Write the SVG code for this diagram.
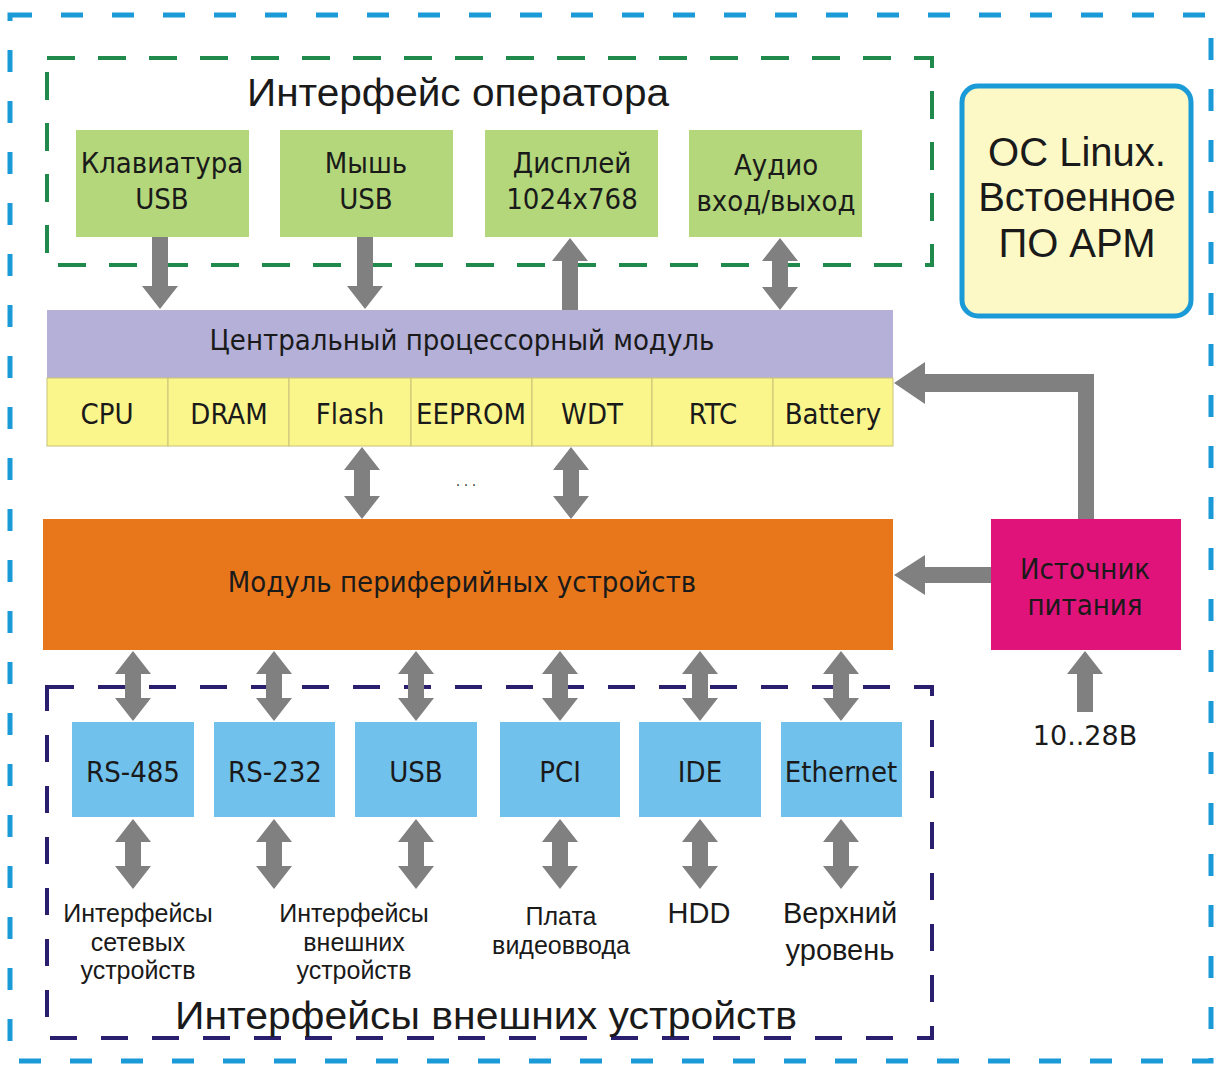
<svg xmlns="http://www.w3.org/2000/svg" width="1216" height="1066" viewBox="0 0 1216 1066">
<style>
.t{font-family:"DejaVu Sans Condensed","DejaVu Sans",sans-serif;fill:#1a1a1a;text-anchor:middle}
.a{font-family:"Liberation Sans",Arial,sans-serif;fill:#1a1a1a;text-anchor:middle}
.arr{fill:#808080}
.g{fill:#b3d77a}
.y{fill:#fbf68c;stroke:#c8c27a;stroke-width:1}
.b{fill:#70c1ec}
</style>
<rect width="1216" height="1066" fill="#ffffff"/>
<g id="frame-outer">
<rect x="10" y="15" width="1201" height="1046" fill="none" stroke="#1a9ad6" stroke-width="5" stroke-dasharray="22 29"/>
</g>
<g id="group-operator">
<rect x="47" y="58" width="885" height="207" fill="none" stroke="#1f8a4c" stroke-width="4" stroke-dasharray="28 23"/>
<text class="a" x="458" y="106" font-size="38" textLength="422" lengthAdjust="spacingAndGlyphs">Интерфейс оператора</text>
</g>
<g id="group-external">
<rect x="47" y="687" width="885" height="351" fill="none" stroke="#2a1f6e" stroke-width="4" stroke-dasharray="27 24"/>
<text class="a" x="486" y="1029" font-size="38" textLength="622" lengthAdjust="spacingAndGlyphs">Интерфейсы внешних устройств</text>
</g>
<g id="keyboard"><rect class="g" x="76" y="130" width="173" height="107"/><text class="t" x="162" y="173" font-size="29">Клавиатура</text><text class="t" x="162" y="209" font-size="29">USB</text></g>
<g id="mouse"><rect class="g" x="280" y="130" width="173" height="107"/><text class="t" x="366" y="173" font-size="29">Мышь</text><text class="t" x="366" y="209" font-size="29">USB</text></g>
<g id="display"><rect class="g" x="485" y="130" width="173" height="107"/><text class="t" x="572" y="173" font-size="29">Дисплей</text><text class="t" x="572" y="209" font-size="29">1024x768</text></g>
<g id="audio"><rect class="g" x="689" y="130" width="173" height="107"/><text class="t" x="776" y="175" font-size="29">Аудио</text><text class="t" x="776" y="211" font-size="29">вход/выход</text></g>
<g id="os">
<rect x="962" y="86" width="229" height="230" rx="16" fill="#fdf9c6" stroke="#1a9ad6" stroke-width="5"/>
<text class="a" x="1077" y="166" font-size="40">ОС Linux.</text>
<text class="a" x="1077" y="211" font-size="40">Встоенное</text>
<text class="a" x="1077" y="257" font-size="40">ПО АРМ</text>
</g>
<g id="cpu-module">
<rect x="47" y="310" width="846" height="68" fill="#b4b0d8"/>
<text class="t" x="462" y="350" font-size="29">Центральный процессорный модуль</text>
<rect class="y" x="47" y="378" width="121" height="68"/><text class="t" x="107" y="424" font-size="29">CPU</text>
<rect class="y" x="168" y="378" width="121" height="68"/><text class="t" x="229" y="424" font-size="29">DRAM</text>
<rect class="y" x="289" y="378" width="122" height="68"/><text class="t" x="350" y="424" font-size="29">Flash</text>
<rect class="y" x="411" y="378" width="121" height="68"/><text class="t" x="471" y="424" font-size="29">EEPROM</text>
<rect class="y" x="532" y="378" width="120" height="68"/><text class="t" x="592" y="424" font-size="29">WDT</text>
<rect class="y" x="652" y="378" width="121" height="68"/><text class="t" x="713" y="424" font-size="29">RTC</text>
<rect class="y" x="773" y="378" width="120" height="68"/><text class="t" x="833" y="424" font-size="29">Battery</text>
</g>
<g id="periph-module">
<rect x="43" y="519" width="850" height="131" fill="#e8771c"/>
<text class="t" x="462" y="592" font-size="29">Модуль периферийных устройств</text>
</g>
<g id="power">
<rect x="991" y="519" width="190" height="131" fill="#e0137a"/>
<text class="t" x="1085" y="579" font-size="29">Источник</text>
<text class="t" x="1085" y="615" font-size="29">питания</text>
</g>
<g id="rs485"><rect class="b" x="72" y="722" width="122" height="95"/><text class="t" x="133" y="782" font-size="29">RS-485</text></g>
<g id="rs232"><rect class="b" x="214" y="722" width="121" height="95"/><text class="t" x="275" y="782" font-size="29">RS-232</text></g>
<g id="usb"><rect class="b" x="355" y="722" width="122" height="95"/><text class="t" x="416" y="782" font-size="29">USB</text></g>
<g id="pci"><rect class="b" x="500" y="722" width="120" height="95"/><text class="t" x="560" y="782" font-size="29">PCI</text></g>
<g id="ide"><rect class="b" x="639" y="722" width="122" height="95"/><text class="t" x="700" y="782" font-size="29">IDE</text></g>
<g id="ethernet"><rect class="b" x="781" y="722" width="121" height="95"/><text class="t" x="841" y="782" font-size="29">Ethernet</text></g>
<g id="labels">
<text class="a" x="138" y="922" font-size="25">Интерфейсы</text>
<text class="a" x="138" y="951" font-size="25">сетевых</text>
<text class="a" x="138" y="979" font-size="25">устройств</text>
<text class="a" x="354" y="922" font-size="25">Интерфейсы</text>
<text class="a" x="354" y="951" font-size="25">внешних</text>
<text class="a" x="354" y="979" font-size="25">устройств</text>
<text class="a" x="561" y="925" font-size="25">Плата</text>
<text class="a" x="561" y="954" font-size="25">видеоввода</text>
<text class="a" x="699" y="923" font-size="29">HDD</text>
<text class="a" x="840" y="923" font-size="29">Верхний</text>
<text class="a" x="840" y="960" font-size="29">уровень</text>
<text x="1085" y="745" font-size="27" font-family="'DejaVu Sans',sans-serif" fill="#1a1a1a" text-anchor="middle">10..28В</text>
<text class="t" x="466" y="486" font-size="14" fill="#555">. . .</text>
</g>
<g id="connectors">
<path class="arr" d="M152,237 H168 V286 H178 L160,309 L142,286 H152 Z"/>
<path class="arr" d="M357,237 H373 V286 H383 L365,309 L347,286 H357 Z"/>
<path class="arr" d="M562,310 H578 V261 H588 L570,238 L552,261 H562 Z"/>
<path class="arr" d="M780,238 L798,261 H788 V287 H798 L780,310 L762,287 H772 V261 H762 Z"/>
<path class="arr" d="M362,447 L380,470 H370 V496 H380 L362,519 L344,496 H354 V470 H344 Z"/>
<path class="arr" d="M571,447 L589,470 H579 V496 H589 L571,519 L553,496 H563 V470 H553 Z"/>
<path class="arr" d="M1078,519 V392 H925 V404 L894,383 L925,362 V374 H1094 V519 Z"/>
<path class="arr" d="M991,567 V583 H925 V595 L894,575 L925,555 V567 Z"/>
<path class="arr" d="M1077,712 H1093 V674 H1103 L1085,651 L1067,674 H1077 Z"/>
<path class="arr" d="M133,651 L151,674 H141 V698 H151 L133,721 L115,698 H125 V674 H115 Z"/>
<path class="arr" d="M274,651 L292,674 H282 V698 H292 L274,721 L256,698 H266 V674 H256 Z"/>
<path class="arr" d="M416,651 L434,674 H424 V698 H434 L416,721 L398,698 H408 V674 H398 Z"/>
<path class="arr" d="M560,651 L578,674 H568 V698 H578 L560,721 L542,698 H552 V674 H542 Z"/>
<path class="arr" d="M700,651 L718,674 H708 V698 H718 L700,721 L682,698 H692 V674 H682 Z"/>
<path class="arr" d="M841,651 L859,674 H849 V698 H859 L841,721 L823,698 H833 V674 H823 Z"/>
<path class="arr" d="M133,819 L151,842 H141 V866 H151 L133,889 L115,866 H125 V842 H115 Z"/>
<path class="arr" d="M274,819 L292,842 H282 V866 H292 L274,889 L256,866 H266 V842 H256 Z"/>
<path class="arr" d="M416,819 L434,842 H424 V866 H434 L416,889 L398,866 H408 V842 H398 Z"/>
<path class="arr" d="M560,819 L578,842 H568 V866 H578 L560,889 L542,866 H552 V842 H542 Z"/>
<path class="arr" d="M700,819 L718,842 H708 V866 H718 L700,889 L682,866 H692 V842 H682 Z"/>
<path class="arr" d="M841,819 L859,842 H849 V866 H859 L841,889 L823,866 H833 V842 H823 Z"/>
</g>
</svg>
